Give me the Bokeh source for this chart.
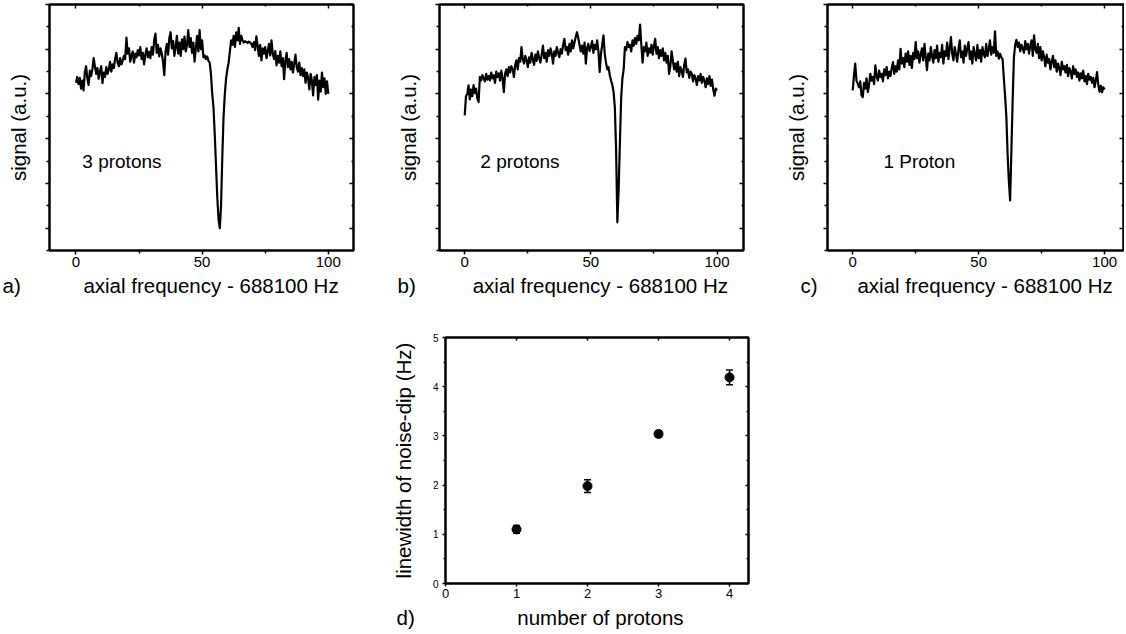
import numpy as np
from bokeh.plotting import figure
from bokeh.models import (LinearAxis, FixedTicker, Label, Range1d, Spacer,
                          ColumnDataSource, Whisker, TeeHead, Title)
from bokeh.layouts import column, row
from bokeh.embed import file_html
from bokeh.resources import INLINE

FONT = "Liberation Sans"
NB = "\u00a0"
TITLE_SIZE = "20.5px"

# ---------------- data ----------------
freq = np.arange(0, 100.5, 0.5)  # sampling grid, 0..100 Hz offset

sig_3p = [
    3.25, 3.38, 3.22, 3.36, 3.12, 3.30, 3.08, 3.48, 3.62, 3.35,
    3.20, 3.52, 3.40, 3.55, 3.80, 3.62, 3.45, 3.58, 3.34, 3.50,
    3.62, 3.24, 3.48, 3.38, 3.60, 3.45, 3.55, 3.72, 3.50, 3.66,
    3.58, 3.78, 3.92, 3.70, 3.62, 3.80, 3.66, 3.74, 3.85, 3.78,
    4.26, 3.90, 4.02, 3.72, 3.86, 3.95, 3.70, 3.90, 3.82, 3.98,
    3.86, 4.05, 3.78, 3.92, 3.66, 3.88, 4.02, 3.82, 3.94, 3.80,
    4.05, 3.88, 4.20, 4.35, 3.92, 4.10, 3.84, 4.02, 3.90, 3.72,
    3.42, 3.95, 4.12, 3.88, 4.25, 4.38, 4.02, 4.18, 3.85, 4.05,
    4.30, 3.90, 4.15, 3.85, 4.22, 4.00, 4.28, 3.95, 4.10, 4.43,
    4.05, 4.25, 3.92, 4.15, 3.72, 4.02, 4.30, 3.95, 4.43, 4.00,
    4.20, 3.82, 3.86, 3.78, 3.84, 3.74, 3.70, 3.45, 3.00, 2.70,
    2.10, 1.40, 0.70, 0.20, 0.00, 0.50, 1.60, 2.50, 3.00, 3.35,
    3.55, 3.70, 3.95, 4.20, 4.10, 4.30, 4.05, 4.38, 4.20, 4.48,
    4.12, 4.30, 4.20, 4.15, 4.18, 4.16, 4.14, 4.17, 4.15, 4.12,
    4.05, 4.16, 3.98, 4.29, 4.08, 3.85, 4.10, 3.75, 4.02, 3.90,
    4.05, 3.80, 3.95, 4.12, 3.86, 4.20, 3.90, 3.78, 3.96, 3.64,
    3.85, 3.70, 3.95, 3.62, 3.80, 3.33, 3.75, 3.92, 3.60, 3.78,
    3.55, 3.72, 3.48, 3.68, 3.88, 3.60, 3.50, 3.70, 3.42, 3.58,
    3.40, 3.55, 3.25, 3.48, 3.36, 3.10, 3.45, 3.30, 2.97, 3.38,
    3.20, 3.42, 2.87, 3.30, 3.05, 3.48, 3.15, 3.35, 3.00, 3.28,
    3.00,
]

sig_2p = [
    2.52, 2.95, 3.00, 3.19, 2.88, 3.10, 2.95, 3.20, 3.02, 3.12,
    2.90, 2.82, 3.38, 3.30, 3.42, 3.35, 3.28, 3.45, 3.32, 3.40,
    3.30, 3.48, 3.35, 3.42, 3.25, 3.50, 3.38, 3.46, 3.30, 3.52,
    3.36, 3.04, 3.45, 3.55, 3.40, 3.60, 3.48, 3.62, 3.55, 3.38,
    3.65, 3.75, 3.55, 3.80, 3.72, 4.05, 3.78, 3.68, 3.85, 3.75,
    3.60, 3.82, 3.70, 3.92, 3.76, 3.65, 3.88, 3.74, 3.95, 3.80,
    3.70, 3.88, 4.08, 3.80, 3.92, 3.72, 3.98, 3.85, 4.02, 3.90,
    3.68, 3.95, 3.85, 4.05, 3.92, 3.82, 4.00, 3.90, 4.10, 4.23,
    3.98, 4.05, 3.88, 4.12, 3.95, 4.20, 4.02, 4.15, 4.28, 4.38,
    4.25, 4.10, 3.95, 4.08, 3.90, 4.15, 3.68, 4.02, 4.12, 3.96,
    4.05, 4.18, 3.92, 4.10, 4.00, 4.20, 3.95, 3.49, 3.90, 4.10,
    4.31, 3.90, 3.70, 3.55, 3.60, 3.42, 3.30, 3.20, 3.05, 2.70,
    1.75, 0.13, 0.85, 1.90, 2.90, 3.35, 3.55, 4.05, 3.98, 4.16,
    4.05, 4.10, 3.95, 4.20, 4.08, 4.25, 4.12, 4.30, 4.20, 4.55,
    4.10, 3.70, 4.05, 3.95, 4.15, 3.85, 4.02, 3.92, 4.10, 3.88,
    4.08, 4.23, 3.90, 4.05, 3.80, 3.98, 3.85, 4.02, 3.75, 3.92,
    3.70, 3.85, 3.45, 3.62, 3.95, 3.75, 3.55, 3.68, 3.50, 3.72,
    3.40, 3.60, 3.52, 3.38, 3.65, 3.79, 3.48, 3.55, 3.36, 3.50,
    3.45, 3.28, 3.42, 3.35, 3.20, 3.40, 3.30, 3.45, 3.25, 3.38,
    3.30, 3.15, 3.35, 3.22, 3.40, 3.18, 3.32, 3.10, 2.96, 3.12,
    3.08,
]

sig_1p = [
    3.08, 3.40, 3.68, 3.30, 3.23, 3.15, 3.28, 2.97, 2.93, 3.25,
    3.12, 3.35, 3.04, 3.20, 3.45, 3.30, 3.38, 3.22, 3.64, 3.40,
    3.30, 3.52, 3.38, 3.45, 3.28, 3.55, 3.42, 3.60, 3.35, 3.50,
    3.40, 3.58, 3.71, 3.45, 3.62, 3.50, 3.75, 3.55, 4.01, 3.68,
    3.80, 3.60, 3.90, 3.72, 3.95, 3.65, 3.85, 3.58, 3.92, 3.78,
    4.16, 3.80, 3.95, 3.70, 3.88, 4.02, 3.75, 4.12, 3.82, 3.53,
    3.90, 3.75, 4.05, 3.85, 3.70, 3.98, 3.80, 4.08, 3.72, 3.92,
    3.82, 4.10, 3.68, 3.95, 3.85, 4.15, 3.78, 4.00, 4.27, 3.90,
    3.75, 4.05, 3.88, 3.72, 4.00, 4.20, 3.82, 3.95, 3.70, 4.08,
    3.85, 4.02, 4.16, 3.78, 3.95, 3.68, 4.05, 3.88, 3.75, 4.10,
    3.80, 3.98, 3.72, 4.05, 3.90, 3.82, 4.12, 3.85, 4.00, 4.20,
    3.88, 4.05, 3.92, 4.40, 3.85, 3.95, 3.79, 3.90, 3.82, 3.78,
    3.35, 2.95, 2.49, 1.65, 1.05, 0.62, 1.74, 2.86, 3.82, 4.10,
    4.21, 4.05, 4.15, 3.95, 4.10, 4.02, 3.92, 4.18, 4.00, 4.12,
    3.90, 4.08, 4.20, 3.85, 4.31, 4.00, 3.92, 4.12, 3.80, 4.05,
    3.75, 3.95, 3.82, 3.62, 3.88, 3.70, 3.78, 3.55, 3.72, 3.85,
    3.60, 3.75, 3.50, 3.68, 3.58, 3.42, 3.72, 3.55, 3.62, 3.48,
    3.65, 3.40, 3.58, 3.50, 3.35, 3.62, 3.45, 3.55, 3.38, 3.48,
    3.30, 3.46, 3.35, 3.52, 3.28, 3.40, 3.22, 3.45, 3.32, 3.38,
    3.25, 3.36, 3.15, 3.30, 3.49, 3.20, 3.05, 3.18, 3.04, 3.15,
    3.10,
]

panel_letters = ["a)", "b)", "c)"]
panel_notes = ["3 protons", "2 protons", "1 Proton"]
x_title = "axial frequency - 688100 Hz"
y_title = "signal (a.u.)"
x_major = [0, 50, 100]
x_minor = [25, 75]
y_major = [0, 1, 2, 3, 4, 5]
y_minor = [-0.5, 0.5, 1.5, 2.5, 3.5, 4.5]

n_protons = [1, 2, 3, 4]
linewidth_hz = [1.10, 1.98, 3.04, 4.19]
linewidth_err = [0.08, 0.13, 0.06, 0.15]
d_letter = "d)"
d_x_title = "number of protons"
d_y_title = "linewidth of noise-dip (Hz)"
d_x_ticks = [0, 1, 2, 3, 4]
d_y_ticks = [0, 1, 2, 3, 4, 5]
d_y_minor = [0.5, 1.5, 2.5, 3.5, 4.5]


def add_axis(p, side, ticks, minor, tick_in, tick_out, minor_in, minor_out,
             label_size=None, standoff=2, title=None, title_standoff=10):
    ax = LinearAxis(ticker=FixedTicker(ticks=ticks, minor_ticks=minor))
    ax.axis_line_width = 2
    ax.axis_line_color = "black"
    ax.major_tick_line_width = 1.5
    ax.minor_tick_line_width = 1.5
    ax.major_tick_in = tick_in
    ax.major_tick_out = tick_out
    ax.minor_tick_in = minor_in
    ax.minor_tick_out = minor_out
    ax.major_label_text_font = FONT
    ax.major_label_text_color = "black"
    ax.major_label_standoff = standoff
    if label_size is None:
        ax.major_label_overrides = {t: "" for t in ticks}
        ax.major_label_text_font_size = "1px"
        ax.major_label_standoff = 0
    else:
        ax.major_label_text_font_size = label_size
    if title:
        ax.axis_label = title
        ax.axis_label_text_font = FONT
        ax.axis_label_text_font_size = TITLE_SIZE
        ax.axis_label_text_font_style = "normal"
        ax.axis_label_text_color = "black"
        ax.axis_label_standoff = title_standoff
    else:
        ax.axis_label_standoff = 0
    p.add_layout(ax, side)
    return ax


def bottom_title(p, letter, gap, title, offset, standoff):
    # panel letter and axis title share one baseline below the x axis
    p.add_layout(Title(text=letter + NB * gap + title, align="left", offset=offset,
                       text_font=FONT, text_font_size=TITLE_SIZE,
                       text_font_style="normal", text_color="black",
                       standoff=standoff), "below")


def top_panel(sig, width, bl, br, xr, note, note_x, letter, letter_dx, gap):
    p = figure(width=width, height=299, output_backend="svg", toolbar_location=None,
               x_range=Range1d(*xr), y_range=Range1d(-0.5, 5),
               min_border_left=bl, min_border_right=br,
               min_border_top=1, min_border_bottom=52,
               x_axis_location=None, y_axis_location=None)
    p.background_fill_color = "white"
    p.border_fill_color = "white"
    p.outline_line_color = "black"
    p.outline_line_width = 2
    p.grid.visible = False
    add_axis(p, "below", x_major, x_minor, 0, 4, 0, 3, label_size="15px", standoff=2)
    add_axis(p, "above", x_major, x_minor, 4, 0, 2, 0)
    add_axis(p, "left", y_major, y_minor, 0, 4, 0, 3, title=y_title, title_standoff=16)
    add_axis(p, "right", y_major, y_minor, 4, 0, 2, 0)
    p.line(freq, sig, line_width=2.2, line_color="black", line_join="round")
    p.add_layout(Label(x=note_x, y=1.48, text=note, text_font=FONT,
                       text_font_size="19px", text_baseline="alphabetic",
                       text_color="black"))
    bottom_title(p, letter, gap, x_title, letter_dx, 4)
    return p


pa = top_panel(sig_3p, 388, 47, 37, (-10.5, 110), panel_notes[0], 2.5,
               panel_letters[0], -47, 11)
pb = top_panel(sig_2p, 387, 49, 34, (-10, 110.5), panel_notes[1], 6.2,
               panel_letters[1], -42, 10)
pc = top_panel(sig_1p, 347, 50, 1, (-10, 107.5), panel_notes[2], 12.2,
               panel_letters[2], -27, 7)

# ---------------- panel d ----------------
pd = figure(width=400, height=332, output_backend="svg", toolbar_location=None,
            x_range=Range1d(0, 4.267), y_range=Range1d(0, 5),
            min_border_left=56, min_border_right=40,
            min_border_top=35, min_border_bottom=51,
            x_axis_location=None, y_axis_location=None)
pd.background_fill_color = "white"
pd.border_fill_color = "white"
pd.outline_line_color = "black"
pd.outline_line_width = 2
pd.grid.visible = False
add_axis(pd, "below", d_x_ticks, [], 0, 3, 0, 0, label_size="13px", standoff=2)
add_axis(pd, "above", d_x_ticks, [], 3, 0, 0, 0)
add_axis(pd, "left", d_y_ticks, d_y_minor, 0, 3, 0, 2, label_size="10px",
         standoff=4, title=d_y_title, title_standoff=15)
add_axis(pd, "right", d_y_ticks, d_y_minor, 3, 0, 2, 0)

src = ColumnDataSource(dict(
    x=n_protons, y=linewidth_hz,
    lo=[v - e for v, e in zip(linewidth_hz, linewidth_err)],
    hi=[v + e for v, e in zip(linewidth_hz, linewidth_err)],
))
pd.add_layout(Whisker(source=src, base="x", lower="lo", upper="hi",
                      line_width=1.5, line_color="black",
                      lower_head=TeeHead(size=7, line_width=1.5, line_color="black"),
                      upper_head=TeeHead(size=7, line_width=1.5, line_color="black")))
pd.scatter("x", "y", source=src, size=9, marker="circle",
           fill_color="black", line_color="black")
bottom_title(pd, d_letter, 18, d_x_title, -49, 7)

layout = column(row(pa, pb, pc), row(Spacer(width=386, height=332), pd),
                margin=(3, 0, 0, 2))

open("out.html", "w").write(file_html(layout, INLINE))
